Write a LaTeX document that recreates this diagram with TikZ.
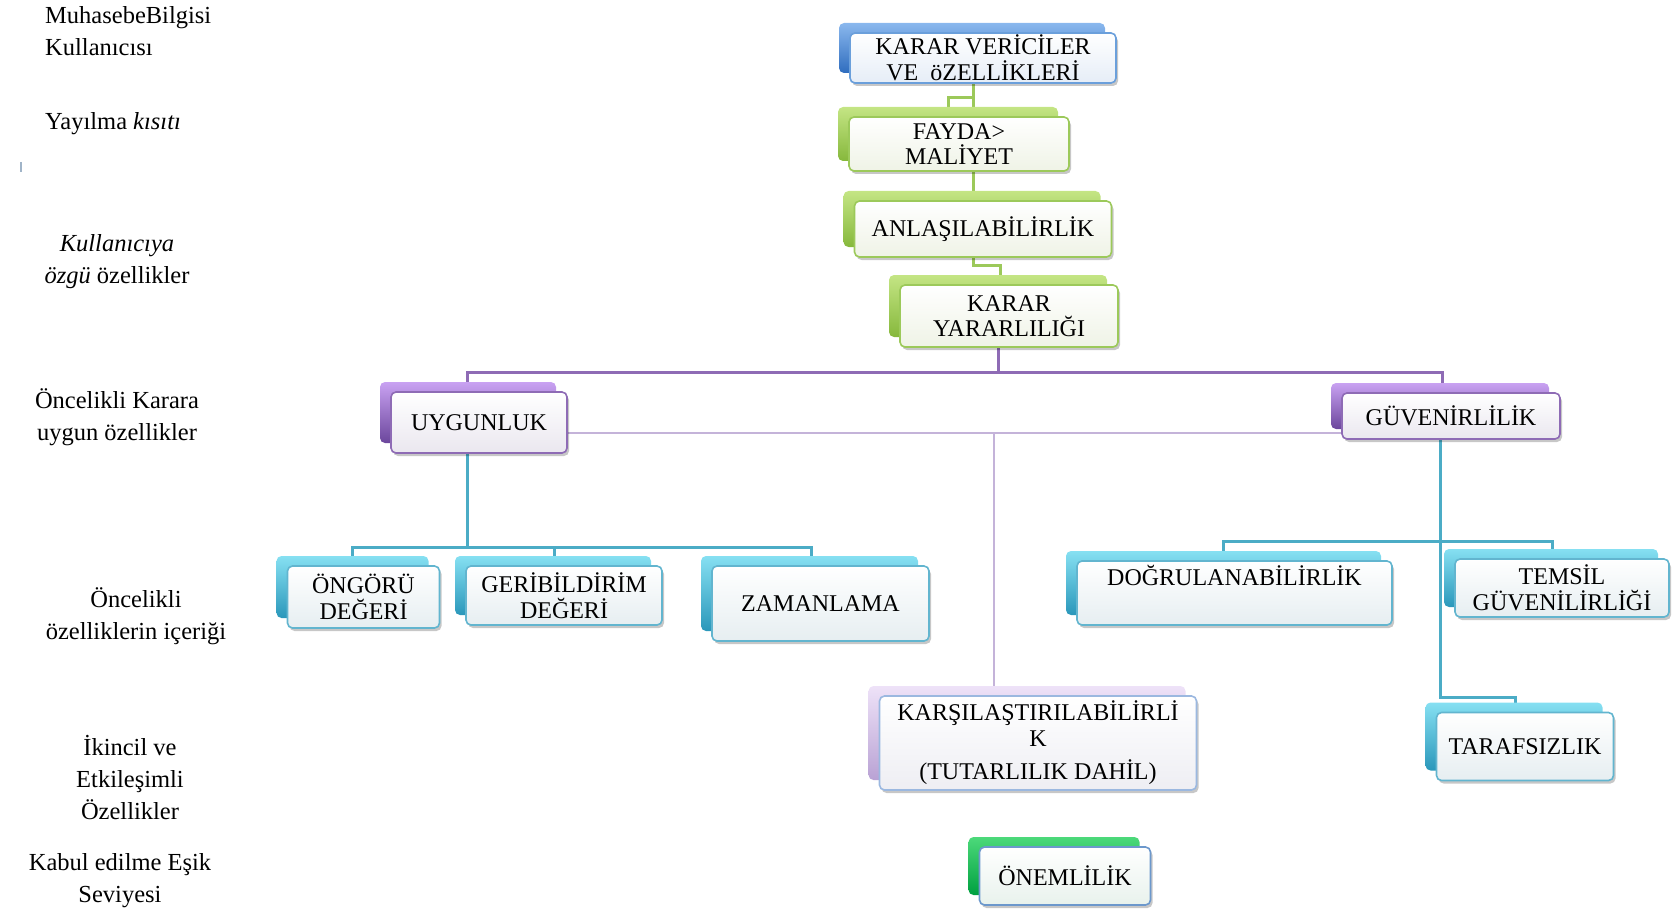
\documentclass[tikz,border=0pt]{standalone}
\usepackage{fontspec}
\setmainfont{Liberation Serif}
\usetikzlibrary{calc,shadows,backgrounds}

% plate colours (back tab, front edge, front fill)
\definecolor{cBlueTop}{HTML}{8AB8EE}\definecolor{cBlueBot}{HTML}{2F6DBE}
\definecolor{cBlueEdge}{HTML}{6A9FDB}\definecolor{cBlueFill}{HTML}{E6EDF7}
\definecolor{cGreenTop}{HTML}{C4E584}\definecolor{cGreenBot}{HTML}{86B83C}
\definecolor{cGreenEdge}{HTML}{9CC95A}\definecolor{cGreenFill}{HTML}{EFF3E6}
\definecolor{cPurpTop}{HTML}{C9A2F2}\definecolor{cPurpBot}{HTML}{6B469C}
\definecolor{cPurpEdge}{HTML}{8E6BB5}\definecolor{cPurpFill}{HTML}{EAE7EF}
\definecolor{cCyanTop}{HTML}{86E0F2}\definecolor{cCyanBot}{HTML}{2A97BA}
\definecolor{cCyanEdge}{HTML}{62B5CF}\definecolor{cCyanFill}{HTML}{E6EEF1}
\definecolor{cLavTop}{HTML}{EEE2F8}\definecolor{cLavBot}{HTML}{B9A2D4}
\definecolor{cLavEdge}{HTML}{9BB8E0}\definecolor{cLavFill}{HTML}{EEEEF3}
\definecolor{cEmTop}{HTML}{4CD97A}\definecolor{cEmBot}{HTML}{00A040}
\definecolor{cEmEdge}{HTML}{6C98CC}\definecolor{cEmFill}{HTML}{E8F2EC}
% connector colours
\definecolor{cLineGreen}{HTML}{9CC95A}
\definecolor{cLinePurp}{HTML}{8E6BB5}
\definecolor{cLineLav}{HTML}{C4B3D9}
\definecolor{cLineCyan}{HTML}{4BACC6}
\definecolor{cMark}{HTML}{A0B4C8}

\newcommand\boxfont{\fontsize{24}{25.6}\selectfont}
\newcommand\sidefont{\fontsize{24.5}{32}\selectfont}

\tikzset{
  card/.style={rounded corners=5pt, line width=1.6pt, align=center,
    font=\boxfont, inner sep=2pt, text=black},
  plate/.style n args={6}{card, draw=#3, top color=white, bottom color=#4,
    general shadow={shadow xshift=-11pt, shadow yshift=10pt,
      top color=#1, bottom color=#2, draw=none},
    drop shadow={shadow xshift=2pt, shadow yshift=-3pt, opacity=.22, fill=black},
    minimum width=#5, minimum height=#6},
  bluecard/.style 2 args={plate={cBlueTop}{cBlueBot}{cBlueEdge}{cBlueFill}{#1}{#2}},
  greencard/.style 2 args={plate={cGreenTop}{cGreenBot}{cGreenEdge}{cGreenFill}{#1}{#2}},
  purpcard/.style 2 args={plate={cPurpTop}{cPurpBot}{cPurpEdge}{cPurpFill}{#1}{#2}},
  cyancard/.style 2 args={plate={cCyanTop}{cCyanBot}{cCyanEdge}{cCyanFill}{#1}{#2}},
  lavcard/.style 2 args={plate={cLavTop}{cLavBot}{cLavEdge}{cLavFill}{#1}{#2}},
  emcard/.style 2 args={plate={cEmTop}{cEmBot}{cEmEdge}{cEmFill}{#1}{#2}},
  gline/.style={draw=cLineGreen, line width=3pt},
  pline/.style={draw=cLinePurp, line width=3pt},
  lpline/.style={draw=cLineLav, line width=2.6pt},
  cline/.style={draw=cLineCyan, line width=3pt},
  side/.style={font=\sidefont, align=center, inner sep=0pt, text=black},
}

\begin{document}
\begin{tikzpicture}[x=1pt, y=-1pt]
\useasboundingbox (0,0) rectangle (1675,912);

% hierarchy boxes
\node[bluecard={266pt}{50pt}] (kv) at (983,58) {KARAR VERİCİLER\\VE\ \ öZELLİKLERİ};
\node[greencard={220pt}{54pt}] (fayda) at (959,144) {FAYDA>\\MALİYET};
\node[greencard={257pt}{56pt}] (anlas) at (983,229) {ANLAŞILABİLİRLİK};
\node[greencard={218pt}{62pt}] (ky) at (1009,316) {KARAR\\YARARLILIĞI};
\node[purpcard={176pt}{61pt}] (uyg) at (479,422.5) {UYGUNLUK};
\node[purpcard={218pt}{46pt}] (guv) at (1451,416) {GÜVENİRLİLİK};
\node[cyancard={152pt}{62pt}] (ongoru) at (363.5,597) {ÖNGÖRÜ\\DEĞERİ};
\node[cyancard={196pt}{59pt}] (geri) at (564,595.5) {GERİBİLDİRİM\\DEĞERİ};
\node[cyancard={217pt}{75pt}] (zaman) at (820.5,603.5) {ZAMANLAMA};
\node[cyancard={315pt}{64pt}, text depth=36pt] (dogru) at (1234.5,593) {DOĞRULANABİLİRLİK};
\node[cyancard={214pt}{58pt}] (temsil) at (1562,588) {TEMSİL\\GÜVENİLİRLİĞİ};
\node[lavcard={317pt}{94pt}] (kars) at (1038,743) {KARŞILAŞTIRILABİLİRLİ\\K\\[8pt](TUTARLILIK DAHİL)};
\node[cyancard={177pt}{68pt}] (taraf) at (1525,746.5) {TARAFSIZLIK};
\node[emcard={171pt}{58pt}] (onem) at (1065,876) {ÖNEMLİLİK};

% connectors, kept behind the boxes
\begin{pgfonlayer}{background}
  \coordinate (gb) at ($(kv)+(-10,0)$);
  \draw[gline] (gb) -- (gb |- anlas);
  \draw[gline] ($(kv.south)+(-10,14)$) -| ($(fayda)+(-11,0)$);
  \draw[gline] (gb |- anlas) |- ($(ky.north)+(-9,-19)$) -- ($(ky)+(-9,0)$);

  \coordinate (pb) at ($(uyg.north)+(-12,-19)$);
  \draw[pline] ($(uyg)+(-12,0)$) -- (pb) -- ($(guv.north)+(-9,-20)$) -- ($(guv)+(-9,0)$);
  \draw[pline] ($(ky)+(-11,0)$) -- ($(ky.south)+(-11,26)$);

  \coordinate (lb) at ($(uyg)+(0,10.5)$);
  \draw[lpline] (lb) -- (lb -| guv);
  \draw[lpline] ($(kars)+(-44,0)$) |- (lb);

  \coordinate (cb) at ($(uyg)+(-12,124.5)$);
  \draw[cline] ($(uyg)+(-12,0)$) -- (cb);
  \draw[cline] ($(ongoru)+(-11.5,0)$) |- (cb);
  \draw[cline] ($(geri)+(-10,0)$) |- (cb);
  \draw[cline] ($(zaman)+(-9.5,0)$) |- (cb);

  \draw[cline] ($(guv)+(-11,0)$) |- ($(taraf.north)+(-10,-14)$) -- ($(taraf)+(-10,0)$);
  \draw[cline] ($(dogru)+(-11.5,0)$) |- ($(temsil.north)+(-10,-17)$) -- ($(temsil)+(-10,0)$);
\end{pgfonlayer}

% level captions on the left
\node[side, anchor=west, align=left] (mb) at (45,31) {MuhasebeBilgisi\\Kullanıcısı};
\node[side, anchor=west] (yk) at (45,124) {Yayılma \textit{kısıtı}};
\draw[draw=cMark, line width=1.2pt] (21,162) -- (21,172);
\node[side] (ko) at (117,262) {\textit{Kullanıcıya}\\\textit{özgü} özellikler};
\node[side] (ok) at (117,417) {Öncelikli Karara\\uygun özellikler};
\node[side] (oi) at (136,616) {Öncelikli\\özelliklerin içeriği};
\node[side] (ie) at (130,778) {İkincil ve\\Etkileşimli\\Özellikler};
\node[side] (ke) at (120,881) {Kabul edilme Eşik\\Seviyesi};
\end{tikzpicture}
\end{document}
